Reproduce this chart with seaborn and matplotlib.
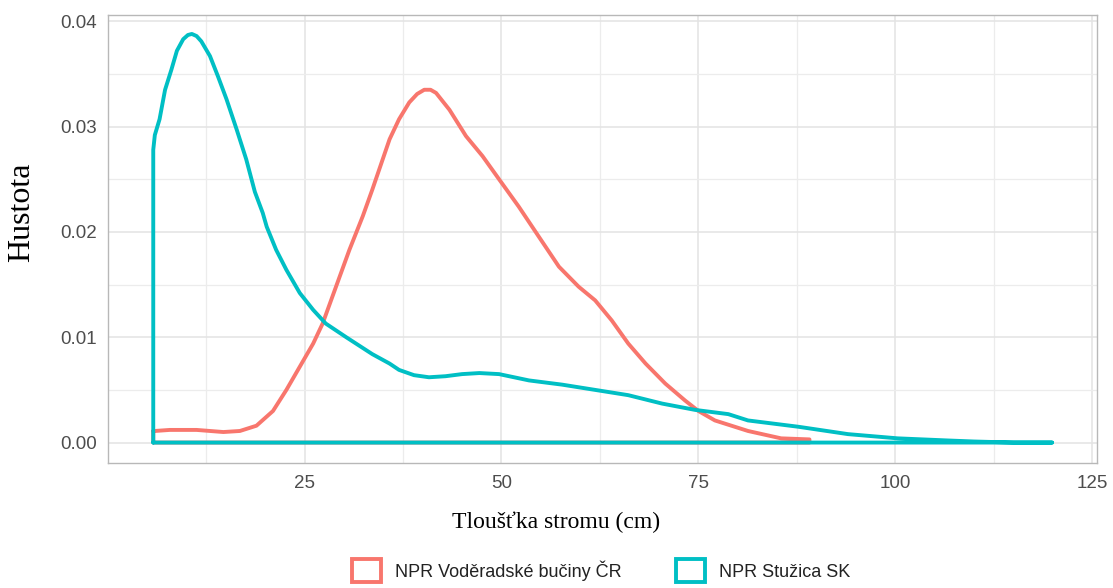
import matplotlib
matplotlib.use("Agg")
import matplotlib.pyplot as plt
from matplotlib.patches import Patch
from matplotlib.ticker import MultipleLocator, FormatStrFormatter
import numpy as np
import pandas as pd
import seaborn as sns

# density curves (diameter in cm, density)
cz_x = [5.8, 6.0, 7.9, 11.3, 14.7, 16.8, 18.9, 21.0, 22.7, 24.4, 26.1, 27.3, 29.0,
        30.7, 32.4, 33.6, 35.8, 37.0, 38.3, 39.3, 40.2, 41.0, 41.7, 43.4, 45.5,
        47.6, 49.7, 52.2, 54.7, 57.3, 59.8, 61.9, 64.0, 66.1, 68.3, 70.8, 73.3,
        75.0, 77.1, 81.3, 85.5, 89.1]
cz_y = [0.0011, 0.0011, 0.0012, 0.0012, 0.0010, 0.0011, 0.0016, 0.0030, 0.0050,
        0.0072, 0.0094, 0.0113, 0.0148, 0.0183, 0.0215, 0.0240, 0.0288, 0.0307,
        0.0323, 0.0331, 0.0335, 0.0335, 0.0332, 0.0316, 0.0291, 0.0272, 0.0250,
        0.0224, 0.0196, 0.0167, 0.0148, 0.0135, 0.0116, 0.0094, 0.0075, 0.0056,
        0.0040, 0.0030, 0.0021, 0.0011, 0.0004, 0.0003]

sk_x = [5.8, 5.8, 6.0, 6.6, 7.3, 8.1, 8.8, 9.6, 10.2, 10.7, 11.3, 11.9, 13.0, 14.0,
        15.1, 16.4, 17.6, 18.7, 19.7, 20.2, 21.4, 22.7, 24.4, 26.1, 27.7, 30.3,
        33.6, 35.8, 37.0, 38.9, 40.8, 42.9, 45.0, 47.2, 49.7, 53.5, 57.7, 61.9,
        66.1, 70.4, 74.6, 78.8, 81.3, 87.7, 94.0, 100.3, 106.6, 110.0, 115.0,
        119.9]
sk_y = [0.0, 0.0278, 0.0292, 0.0307, 0.0335, 0.0354, 0.0372, 0.0383, 0.0387,
        0.0388, 0.0386, 0.0381, 0.0367, 0.0348, 0.0326, 0.0297, 0.0269, 0.0238,
        0.0218, 0.0205, 0.0183, 0.0164, 0.0142, 0.0126, 0.0113, 0.0100, 0.0084,
        0.0075, 0.0069, 0.0064, 0.0062, 0.0063, 0.0065, 0.0066, 0.0065, 0.0059,
        0.0055, 0.0050, 0.0045, 0.0037, 0.0031, 0.0027, 0.0021, 0.0015, 0.0008,
        0.0004, 0.0002, 0.0001, 0.0, 0.0]

labels = ["NPR Voděradské bučiny ČR", "NPR Stužica SK"]
colors = ["#F8766D", "#00BFC4"]


def closed(xs, ys, name):
    # ggplot-style density outline: curve, then back along the baseline
    px = list(xs) + [xs[-1], xs[0], xs[0]]
    py = list(ys) + [0.0, 0.0, ys[0]]
    return pd.DataFrame({"x": px, "y": py, "site": name})


df = pd.concat([closed(cz_x, cz_y, labels[0]), closed(sk_x, sk_y, labels[1])],
               ignore_index=True)

sns.set_style("white")
plt.rcParams["font.family"] = ["Liberation Sans", "DejaVu Sans"]

fig, ax = plt.subplots(figsize=(11.13, 5.88), dpi=100)
fig.subplots_adjust(left=0.097, right=0.9856, top=0.9745, bottom=0.2126)

for name, col in zip(labels, colors):
    sns.lineplot(data=df[df["site"] == name], x="x", y="y", sort=False,
                 estimator=None, color=col, linewidth=2.8, ax=ax, legend=False,
                 zorder=3)

ax.set_xlim(0.05, 125.6)
ax.set_ylim(-0.00194, 0.0406)
ax.xaxis.set_major_locator(MultipleLocator(25))
ax.xaxis.set_minor_locator(MultipleLocator(12.5))
ax.yaxis.set_major_locator(MultipleLocator(0.01))
ax.yaxis.set_minor_locator(MultipleLocator(0.005))
ax.yaxis.set_major_formatter(FormatStrFormatter("%.2f"))
ax.set_xticks([25, 50, 75, 100, 125])

ax.grid(which="major", color="#e3e3e3", linewidth=1.1)
ax.grid(which="minor", color="#ececec", linewidth=0.9)
ax.set_axisbelow(True)
for s in ax.spines.values():
    s.set_color("#b8b8b8")
    s.set_linewidth(1.0)

ax.tick_params(axis="both", which="major", length=4, width=1, color="#b8b8b8",
               labelsize=13.5, labelcolor="#4d4d4d", pad=4)
ax.tick_params(axis="both", which="minor", length=0)
ax.tick_params(axis="x", pad=5)

ax.set_xlabel("Tloušťka stromu (cm)", family=["Liberation Serif", "DejaVu Serif"],
              fontsize=17, color="black")
ax.set_ylabel("Hustota", family=["Liberation Serif", "DejaVu Serif"],
              fontsize=23, color="black")
ax.xaxis.set_label_coords(0.453, -0.132)
ax.xaxis.label.set_va("center")
ax.yaxis.set_label_coords(-0.087, 0.56)
ax.yaxis.label.set_va("center")

handles = [Patch(facecolor="white", edgecolor=c, linewidth=2.8) for c in colors]
fig.legend(handles, labels, loc="lower center", bbox_to_anchor=(0.54, -0.018),
           ncol=2, frameon=False, fontsize=13, handlelength=1.6, handleheight=1.6,
           columnspacing=3.0, handletextpad=0.8, labelcolor="#222222")

plt.savefig("out.png", dpi=100, facecolor="white")
plt.close()
